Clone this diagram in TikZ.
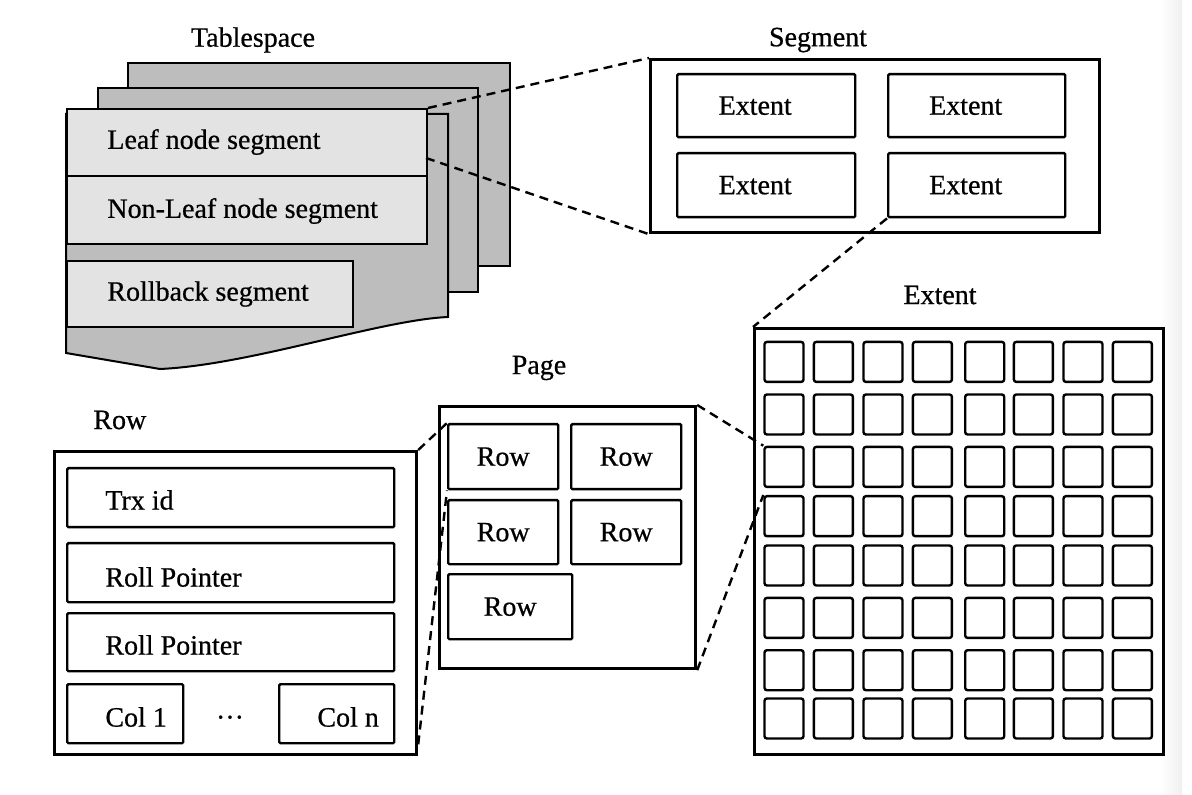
\documentclass[tikz,border=0pt]{standalone}
\usepackage{fontspec}
\setmainfont[FakeBold=0.6]{Liberation Serif}
\usetikzlibrary{calc}
\definecolor{sheetgray}{HTML}{BDBDBD}
\definecolor{boxgray}{HTML}{E3E3E3}
\newcommand{\bx}[7]{\node[#1, minimum width={(#4-(#2))*0.5pt}, minimum height={(#5-(#3))*0.5pt}] (#6) at (#2,#3) {#7};}
\begin{document}
\begin{tikzpicture}[x=0.5pt,y=-0.5pt,
  txt/.style={font=\fontsize{14}{16}\selectfont, inner sep=0pt},
  box/.style={draw=black, line width=1.2pt, rectangle, rounded corners=0.6pt, inner sep=0pt, anchor=north west, txt},
  outerbox/.style={box, line width=1.6pt, rounded corners=0pt},
  tsbox/.style={box, fill=boxgray, rounded corners=0pt, line width=1pt},
  sheet/.style={draw=black, line width=1pt, fill=sheetgray},
  cell/.style={box, line width=1.2pt, rounded corners=1.2pt},
  zoomline/.style={draw=black, line width=1.2pt, dash pattern=on 4.5pt off 3pt}]
% canvas
\useasboundingbox (0,0) rectangle (1192,795);
\fill[white] (0,0) rectangle (1192,795);
\shade[left color=white, right color=gray!12] (1160,0) rectangle (1182,795);

% ---------- Tablespace ----------
\node[txt] (tstitle) at (253,40) {Tablespace};
\filldraw[sheet] (128,63) rectangle (510,266);
\filldraw[sheet] (98,88) rectangle (478,292);
\filldraw[sheet] (66,114) -- (448,114) -- (448,317)
  .. controls (380,320) and (250,365) .. (160,369) -- (66,353) -- cycle;
\bx{tsbox}{66}{108}{426}{175}{leaf}{}
\bx{tsbox}{66}{175}{426}{243}{nonleaf}{}
\bx{tsbox}{66}{260}{352}{326}{rollback}{}
\node[txt, anchor=west] (leaft) at (107,142) {Leaf node segment};
\node[txt, anchor=west] (nonleaft) at (107,211) {Non-Leaf node segment};
\node[txt, anchor=west] (rollbackt) at (107,294) {Rollback segment};

% ---------- Segment ----------
\node[txt] (segtitle) at (818,40) {Segment};
\bx{outerbox}{649}{58}{1098}{231}{seg}{}
\bx{box}{676}{73}{854}{136}{e1}{}
\bx{box}{887}{73}{1064}{136}{e2}{}
\bx{box}{676}{152}{854}{216}{e3}{}
\bx{box}{887}{152}{1064}{216}{e4}{}
\node[txt] (e1t) at ([xshift=-5.5pt]e1.center) {Extent};
\node[txt] (e2t) at ([xshift=-5.5pt]e2.center) {Extent};
\node[txt] (e3t) at ([xshift=-5.5pt]e3.center) {Extent};
\node[txt] (e4t) at ([xshift=-5.5pt]e4.center) {Extent};

% ---------- Extent ----------
\node[txt] (exttitle) at (940,295) {Extent};
\bx{outerbox}{753}{327}{1162}{753}{ext}{}
\foreach \cx [count=\i] in {763.3,812.7,862.3,911.7,964,1012.7,1062.3,1111.7}{
  \foreach \cy [count=\j] in {340.7,393.3,445.7,495,544.3,596.7,649,697.3}{
    \bx{cell}{\cx}{\cy}{\cx+39}{\cy+40}{c\j\i}{}
  }
}

% ---------- Page ----------
\node[txt] (pagetitle) at (539,368) {Page};
\bx{outerbox}{438}{405}{694}{667}{page}{}
\bx{box}{447}{423}{557}{488}{r1}{Row}
\bx{box}{570}{423}{680}{488}{r2}{Row}
\bx{box}{447}{499}{557}{563}{r3}{Row}
\bx{box}{570}{499}{680}{563}{r4}{Row}
\bx{box}{447}{573}{571}{638}{r5}{Row}

% ---------- Row ----------
\node[txt, anchor=west] (rowtitle) at (93,420) {Row};
\bx{outerbox}{53}{450}{415}{753}{rowbox}{}
\bx{box}{66}{467}{393}{526}{trx}{}
\bx{box}{66}{542}{393}{601}{rp1}{}
\bx{box}{66}{612}{393}{670}{rp2}{}
\bx{box}{66}{683}{182}{742}{col1}{}
\bx{box}{278}{683}{393}{742}{coln}{}
\node[txt, anchor=west] (trxt) at (105,500) {Trx id};
\node[txt, anchor=west] (rp1t) at (105,577) {Roll Pointer};
\node[txt, anchor=west] (rp2t) at (105,645) {Roll Pointer};
\node[txt, anchor=west] (col1t) at (105,717) {Col 1};
\node[txt, anchor=west] (colnt) at (317,717) {Col n};
\node[txt] (dots) at (230,721) {···};

% ---------- dashed zoom lines ----------
\coordinate (leafr) at (426,158);
\draw[zoomline] (leaf.north east) -- (seg.north west);
\draw[zoomline] (leafr) -- (seg.south west);
\draw[zoomline] (e4.south west) -- (ext.north west);
\draw[zoomline] (page.north east) -- (c31.north west);
\draw[zoomline] (page.south east) -- (c41.north west);
\draw[zoomline] (rowbox.north east) -- (r1.north west);
\draw[zoomline] (rowbox.east |- coln.south) -- (r1.south west);
\end{tikzpicture}
\end{document}
